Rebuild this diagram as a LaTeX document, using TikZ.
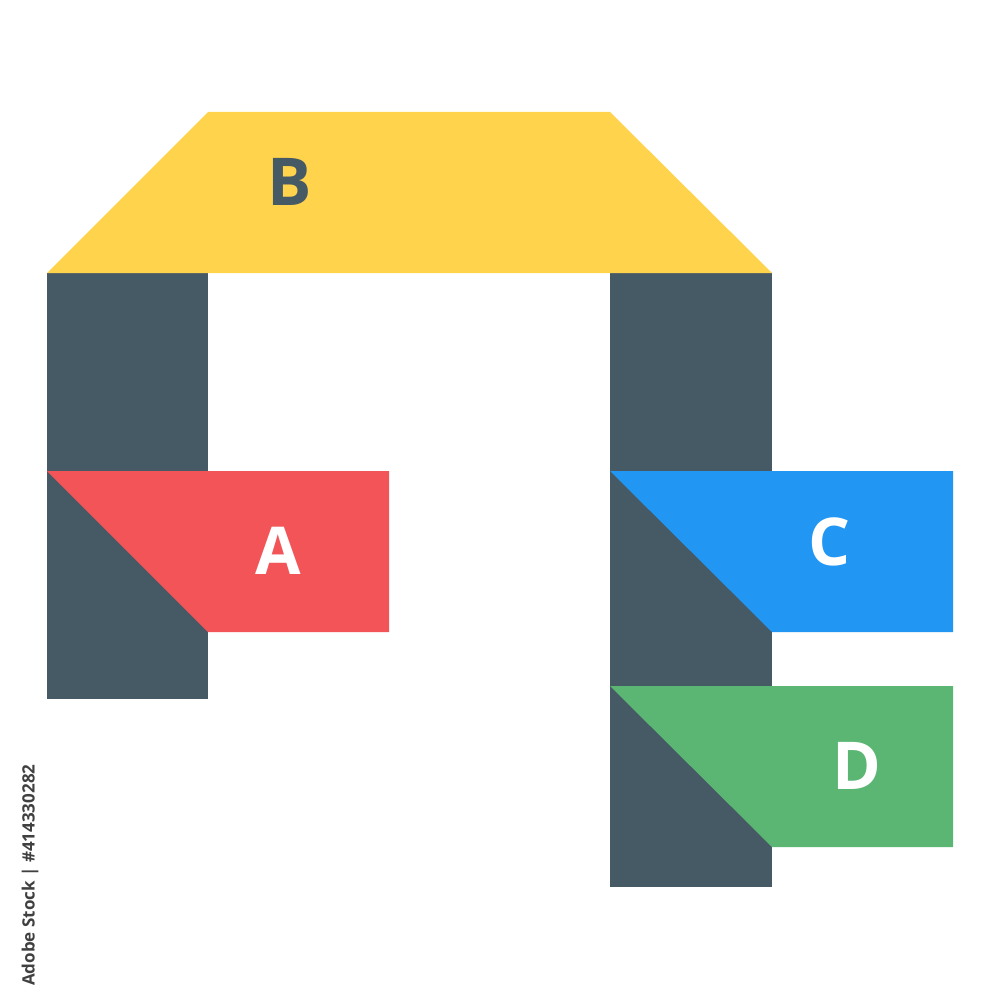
\documentclass[tikz,border=0pt]{standalone}
\usepackage{fontspec}
\setmainfont{Open Sans}
\definecolor{ydark}{HTML}{465A66}
\definecolor{yyel}{HTML}{FFD34C}
\definecolor{yred}{HTML}{F25458}
\definecolor{yblue}{HTML}{2196F3}
\definecolor{ygreen}{HTML}{5BB673}
\begin{document}
\begin{tikzpicture}[x=1pt,y=-1pt,
  lbl/.style={font=\fontsize{66}{66}\selectfont\bfseries, inner sep=0pt, anchor=base},
  shp/.style={draw=none}]
\useasboundingbox (0,0) rectangle (1000,1000);
\fill[white] (0,0) rectangle (1000,1000);
% dark columns
\fill[ydark] (47,273) rectangle (208,699);
\fill[ydark] (610,273) rectangle (772,887);
% B trapezoid
\fill[yyel] (208,112) -- (610,112) -- (772,273) -- (47,273) -- cycle;
% A
\fill[yred] (47,471) -- (389,471) -- (389,632) -- (208,632) -- cycle;
% C
\fill[yblue] (610,471) -- (953,471) -- (953,632) -- (772,632) -- cycle;
% D
\fill[ygreen] (610,686) -- (953,686) -- (953,847) -- (772,847) -- cycle;
\node[lbl, text=ydark] (b) at (290,206) {B};
\node[lbl, text=white] (a) at (278,574) {A};
\node[lbl, text=white] (c) at (830,565) {C};
\node[lbl, text=white] (d) at (857,789) {D};
\node[font=\fontsize{17}{17}\selectfont\bfseries, text=black!75, rotate=90, anchor=west, inner sep=0pt] (w) at (30,986) {Adobe Stock | \#414330282};
\end{tikzpicture}
\end{document}
